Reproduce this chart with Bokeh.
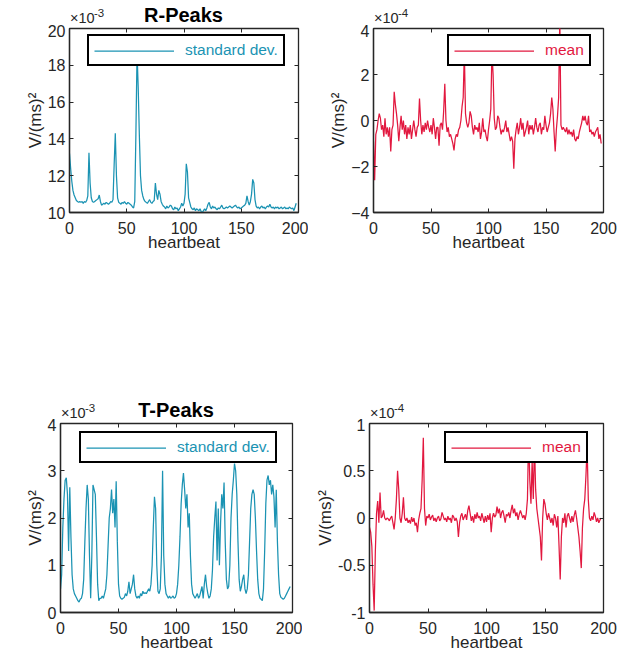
from bokeh.plotting import figure
from bokeh.layouts import column, row
from bokeh.models import (Range1d, LinearAxis, FixedTicker, Legend, Div,
                          LegendItem, CustomJSTickFormatter)
from bokeh.embed import file_html
from bokeh.resources import INLINE

heartbeat = list(range(199))
x_ticks = [0, 50, 100, 150, 200]
titles = ["R-Peaks", "T-Peaks"]

# R-peaks standard deviation (x 1e-3)
r_std = [
    13.2, 12.4, 11.7, 11.2, 10.95, 10.8, 10.65, 10.6, 10.55, 10.6,
    10.55, 10.6, 10.5, 10.6, 10.55, 10.65, 10.9, 13.25, 11.6, 10.8,
    10.6, 10.55, 10.6, 10.65, 10.7, 10.75, 10.95, 10.6, 10.4, 10.45,
    10.5, 10.45, 10.55, 10.5, 10.45, 10.5, 10.6, 10.55, 10.7, 12.6,
    14.3, 12.0, 10.8, 10.55, 10.5, 10.45, 10.55, 10.5, 10.6, 10.5,
    10.45, 10.55, 10.5, 10.45, 10.4, 10.3, 10.25, 10.6, 14.3, 18.7,
    16.8, 14.2, 12.0, 11.2, 10.9, 10.7, 10.6, 10.55, 10.5, 10.6,
    10.7, 10.55, 10.5, 10.6, 10.65, 11.6, 11.0, 10.7, 11.2, 11.0,
    10.6, 10.45, 10.35, 10.3, 10.2, 10.35, 10.25, 10.3, 10.4, 10.35,
    10.2, 10.15, 10.3, 10.2, 10.25, 10.1, 10.2, 10.3, 10.5, 10.35,
    10.5, 11.0, 12.65, 12.2, 10.8, 10.55, 10.3, 10.2, 10.15, 10.25,
    10.1, 10.2, 10.15, 10.1, 10.2, 10.05, 10.0, 10.1, 10.2, 10.1,
    10.25, 10.45, 10.55, 10.3, 10.2, 10.35, 10.25, 10.3, 10.2, 10.15,
    10.25, 10.2, 10.3, 10.4, 10.25, 10.2, 10.25, 10.3, 10.25, 10.3,
    10.35, 10.3, 10.25, 10.3, 10.35, 10.4, 10.3, 10.25, 10.3, 10.2,
    10.25, 10.3, 10.35, 10.4, 10.5, 10.9, 10.6, 10.4, 10.6, 11.0,
    11.8, 11.6, 10.7, 10.35, 10.25, 10.3, 10.2, 10.3, 10.35, 10.25,
    10.3, 10.2, 10.3, 10.35, 10.3, 10.45, 10.3, 10.25, 10.3, 10.2,
    10.3, 10.25, 10.3, 10.2, 10.25, 10.3, 10.2, 10.25, 10.3, 10.2,
    10.25, 10.2, 10.3, 10.25, 10.2, 10.25, 10.1, 10.3, 10.5,
]

# R-peaks mean (x 1e-4)
r_mean = [
    -0.9, -2.6, -0.6, -0.4, 0.0, 0.3, 0.1, -0.4, -0.2, -0.7,
    0.1, -0.6, -0.3, -0.7, -0.3, -1.35, -0.4, -0.2, 1.25, 0.7,
    0.3, -0.2, -0.9, -0.3, 0.2, -0.4, 0.0, -0.6, -0.2, -0.8,
    -0.3, -0.6, -0.2, -0.8, -0.4, 0.0, -0.4, -0.7, -0.3, -0.2,
    0.95, 0.0, -0.6, -0.2, -0.5, -0.1, -0.4, 0.0, -0.3, -0.5,
    -0.2, -0.6, 0.1, -0.3, -0.8, -0.3, -0.3, -1.1, -0.2, -0.1,
    -0.4, 0.4, 1.6, 0.0, -0.5, -0.3, -0.7, -0.6, -0.8, -1.0,
    -1.3, -0.8, -0.6, -0.7, -0.4, -0.3, 0.0, 0.6, 1.0, 3.0,
    0.3, -0.1, -0.3, -0.1, 0.4, 0.2, -0.3, -0.6, -0.2, -0.4,
    -0.3, -0.5, -0.1, -0.8, -0.5, 0.1, -0.5, -0.4, -0.7, -0.9,
    -0.4, 0.0, 0.5, 3.0, 2.0, 0.1, -0.4, -0.3, 0.2, 0.1,
    -0.3, -0.6, -0.4, -0.5, -0.3, 0.0, -0.5, -0.3, -0.6, -0.9,
    -0.7, -0.9, -2.1, -0.8, -0.4, -0.1, -0.6, -0.3, 0.1, -0.4,
    -0.1, -0.7, -0.5, -0.3, 0.0, -0.6, -0.2, -0.4, -0.2, -0.6,
    -0.3, 0.1, -0.3, -0.5, -0.2, -0.1, -0.6, -0.3, -0.4, 0.2,
    -0.2, -0.5, -0.3, -0.1, 0.3, 1.0, 0.5, -0.5, -1.35, -0.4,
    0.2, 1.0, 4.5, -0.2, -0.4, -0.3, -0.4, -0.5, -0.3, -0.6,
    -0.4, -0.6, -0.5, -0.7, -0.4, -0.8, -0.9, -0.7, -0.8, -0.5,
    -0.3, -0.1, 0.2, 0.0, 0.2, -0.1, -0.2, 0.2, -0.5, -0.4,
    -0.6, -0.5, -0.7, -0.5, -0.4, -0.3, -0.8, -0.6, -1.0,
]

# T-peaks standard deviation (x 1e-3)
t_std = [
    0.5, 0.8, 1.8, 2.4, 2.8, 2.85, 2.5, 1.3, 2.65, 1.6,
    0.8, 0.5, 0.4, 0.35, 0.3, 0.25, 0.22, 0.28, 0.3, 0.4,
    0.7, 1.5, 2.2, 2.7, 2.4, 1.2, 0.3, 1.2, 2.7, 2.6,
    2.5, 1.6, 0.6, 0.25, 0.3, 0.3, 0.35, 0.3, 0.4, 0.5,
    0.8, 1.4, 2.0, 2.2, 2.6, 2.1, 2.4, 1.8, 2.78, 1.5,
    0.6, 0.35, 0.3, 0.28, 0.3, 0.32, 0.4, 0.35, 0.45, 0.65,
    0.4, 0.5, 0.6, 0.8, 0.5, 0.35, 0.3, 0.35, 0.3, 0.4,
    0.35, 0.45, 0.4, 0.42, 0.4, 0.45, 0.5, 0.45, 0.6, 1.0,
    1.8, 2.45, 2.2, 1.0, 0.45, 0.4, 0.5, 1.2, 3.0, 1.2,
    0.6, 0.4, 0.35, 0.3, 0.35, 0.3, 0.32, 0.35, 0.3, 0.32,
    0.4, 0.6, 1.0, 1.6, 2.3, 2.7, 2.95, 2.6, 2.2, 2.5,
    1.8, 2.1, 1.2, 0.6, 0.4, 0.35, 0.3, 0.35, 0.4, 0.3,
    0.35, 0.45, 0.55, 0.3, 0.6, 0.8, 0.55, 0.4, 0.3, 0.35,
    0.5, 0.9, 1.6, 2.0, 2.35, 1.1, 2.2, 1.0, 1.9, 2.5,
    2.2, 2.75, 1.5, 0.7, 0.5, 0.55, 1.0, 2.0, 2.5, 2.8,
    3.15, 3.0, 2.5, 1.5, 0.7, 0.45, 0.55, 0.7, 0.8, 0.5,
    0.4, 0.5, 0.8, 1.5, 2.2, 2.5, 2.6, 2.5, 2.0, 1.3,
    0.7, 0.4, 0.3, 0.28, 0.25, 0.5, 1.3, 2.3, 2.8, 2.9,
    2.7, 2.8, 2.5, 2.7, 2.45, 1.8, 2.6, 1.5, 0.8, 0.4,
    0.32, 0.3, 0.28, 0.3, 0.35, 0.4, 0.45, 0.5, 0.55,
]

# T-peaks mean (x 1e-4)
t_mean = [
    -0.1, -0.15, -0.3, -0.7, -0.98, -0.35, 0.05, 0.18, -0.05, 0.27,
    0.0, 0.02, 0.08, 0.0, -0.02, 0.0, -0.01, -0.03, 0.0, 0.02,
    -0.05, -0.12, 0.0, 0.2, 0.5, 0.3, 0.0, -0.05, 0.05, 0.22,
    0.0, -0.03, 0.0, -0.05, -0.02, -0.06, 0.01, -0.04, 0.0, -0.08,
    -0.05, -0.15, -0.02, 0.05, 0.1, 0.4, 0.85, 0.1, -0.08, 0.02,
    0.0, 0.04, -0.02, 0.01, 0.03, -0.03, 0.0, -0.04, 0.0, 0.02,
    -0.03, -0.01, 0.06, 0.02, -0.02, 0.0, -0.04, 0.02, -0.02, 0.0,
    -0.05, 0.03, 0.01, -0.03, 0.0, -0.04, -0.2, -0.05, 0.02, 0.05,
    -0.02, 0.01, 0.04, -0.02, 0.08, 0.13, 0.05, -0.03, 0.02, -0.05,
    0.04, -0.01, 0.06, 0.0, 0.02, -0.03, 0.05, 0.0, -0.05, 0.02,
    -0.04, 0.03, -0.02, 0.05, -0.15, 0.0, 0.05, 0.01, 0.03, 0.12,
    0.05, 0.1, 0.0, 0.06, 0.08, 0.02, -0.05, 0.04, 0.02, 0.06,
    0.0, 0.08, 0.14, 0.05, 0.1, 0.02, 0.06, -0.02, 0.04, 0.08,
    0.04, 0.0, 0.03, -0.02, 0.05, 0.2, 0.9, 0.4, 0.15, 0.6,
    0.2, 0.8, 0.3, 0.1, 0.0, -0.1, -0.2, -0.45, 0.0, 0.2,
    0.15, 0.05, -0.02, 0.05, 0.0, -0.05, 0.0, -0.08, 0.04, 0.0,
    -0.1, 0.02, -0.3, -0.65, -0.2, 0.0, -0.05, 0.05, -0.1, 0.02,
    0.05, 0.0, -0.05, 0.02, -0.04, 0.03, 0.08, 0.0, -0.1, -0.2,
    -0.35, -0.53, -0.1, 0.1, 0.2, 0.45, 0.75, 0.2, 0.0, -0.03,
    0.02, -0.02, 0.06, 0.02, -0.04, 0.0, -0.05, -0.02, 0.0,
]

TEAL = "#1b93b3"
RED = "#e2183f"
INK = "#262626"
FONT = "Liberation Sans"


def panel(y, color, label, y_range, y_ticks,
          fw, fh, bl, br, bt, bb, leg_loc, fmt=None):
    p = figure(frame_width=fw, frame_height=fh,
               min_border_left=bl, min_border_right=br,
               min_border_top=bt, min_border_bottom=bb,
               x_range=Range1d(0, 200), y_range=Range1d(*y_range),
               output_backend="svg", toolbar_location=None, tools="")
    p.grid.visible = False
    p.outline_line_color = INK
    p.outline_line_width = 1.3
    p.background_fill_color = "white"
    p.border_fill_color = "white"

    r = p.line(heartbeat, y, line_color=color, line_width=1.25)

    p.xaxis.ticker = FixedTicker(ticks=x_ticks)
    p.yaxis.ticker = FixedTicker(ticks=y_ticks)
    if fmt is not None:
        p.yaxis.formatter = fmt
    p.xaxis.axis_label = "heartbeat"
    p.yaxis.axis_label = "V/(ms)²"
    for ax in (p.xaxis[0], p.yaxis[0]):
        ax.major_tick_in = 4
        ax.major_tick_out = 0
        ax.minor_tick_line_color = None
        ax.axis_line_color = INK
        ax.axis_line_width = 1.3
        ax.major_tick_line_color = INK
        ax.major_label_text_font = FONT
        ax.major_label_text_font_size = "16px"
        ax.major_label_text_color = INK
        ax.axis_label_text_font = FONT
        ax.axis_label_text_font_size = "17px"
        ax.axis_label_text_font_style = "normal"
        ax.axis_label_text_color = INK
    p.xaxis.major_label_standoff = 9
    p.xaxis.axis_label_standoff = -4
    p.yaxis.major_label_standoff = 4
    p.yaxis.axis_label_standoff = 0

    for loc, ticks in (("above", x_ticks), ("right", y_ticks)):
        ax = LinearAxis(ticker=FixedTicker(ticks=ticks),
                        major_label_text_font_size="1px",
                        major_label_text_color=None,
                        axis_line_color=None, major_tick_in=4,
                        major_tick_out=0, minor_tick_line_color=None,
                        major_tick_line_color=INK, major_label_standoff=0)
        p.add_layout(ax, loc)

    leg = Legend(items=[LegendItem(label=label, renderers=[r])],
                 location=leg_loc, border_line_color="black",
                 border_line_alpha=1.0,
                 border_line_width=2, background_fill_alpha=1.0,
                 label_text_color=color, label_text_font=FONT,
                 label_text_font_size="15.5px", glyph_width=80,
                 glyph_height=17, label_height=17, label_standoff=11,
                 padding=5, spacing=0, margin=0)
    p.add_layout(leg)
    return p


def header(width, height, title, title_center, title_base, exps):
    """exps: list of (frame_left, exponent) pairs; baselines in div px."""
    def top_for(baseline, size):
        return baseline - 0.8465 * size
    parts = [
        f'<div style="position:relative;width:{width}px;height:{height}px;'
        f"font-family:'{FONT}',Arial,sans-serif;color:{INK};"
        'white-space:nowrap;">'
    ]
    parts.append(
        f'<span style="position:absolute;left:{title_center - 100}px;'
        f'width:200px;text-align:center;top:{top_for(title_base, 20):.1f}px;'
        'font-size:20px;line-height:20px;font-weight:bold;color:#000;">'
        f'{title}</span>')
    for left, exp in exps:
        parts.append(
            f'<span style="position:absolute;left:{left + 1}px;'
            f'top:{top_for(title_base + 1, 14.5):.1f}px;font-size:14.5px;'
            f'line-height:14.5px;">×10</span>')
        parts.append(
            f'<span style="position:absolute;left:{left + 25}px;'
            f'top:{top_for(title_base - 4, 11.5):.1f}px;font-size:11.5px;'
            f'line-height:11.5px;">{exp}</span>')
    parts.append('</div>')
    return Div(text="".join(parts), width=width, height=height,
               margin=(0, 0, 0, 0))


half_fmt = CustomJSTickFormatter(code="return tick.toString();")

p1 = panel(r_std, TEAL, "standard dev.", (10, 20), [10, 12, 14, 16, 18, 20],
           229, 184, 69, 10, 4, 50, (18, 146))
p2 = panel(r_mean, RED, "mean", (-4, 4), [-4, -2, 0, 2, 4],
           230, 184, 65, 23, 4, 50, (74, 146))
p3 = panel(t_std, TEAL, "standard dev.", (0, 4), [0, 1, 2, 3, 4],
           232, 189, 60, 10, 5, 44, (19, 149))
p4 = panel(t_mean, RED, "mean", (-1, 1), [-1, -0.5, 0, 0.5, 1],
           234, 189, 67, 23, 5, 44, (75, 149), fmt=half_fmt)

top_div = header(626, 24, titles[0], 183.5, 22,
                 [(69, "-3"), (373, "-4")])
mid_div = header(626, 156, titles[1], 176, 155,
                 [(60, "-3"), (369, "-4")])

layout = column(top_div, row(p1, p2), mid_div, row(p3, p4))

open("out.html", "w").write(file_html(layout, INLINE))
